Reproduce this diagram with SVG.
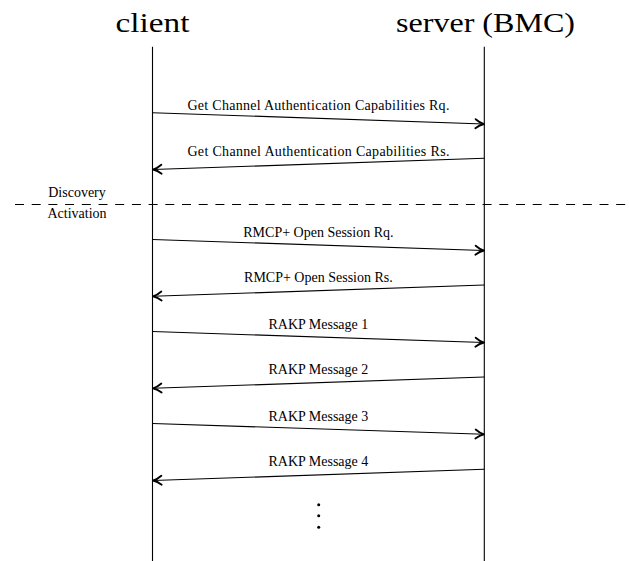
<svg xmlns="http://www.w3.org/2000/svg" width="629" height="561" viewBox="0 0 629 561">
<style>
  text { font-family: "Liberation Serif", "Times New Roman", serif; fill: #000; }
  .title { font-size: 28px; text-anchor: middle; }
  .lbl { font-size: 14px; text-anchor: middle; }
  .life { stroke: #000; stroke-width: 1.1; fill: none; }
  .msg { stroke: #000; stroke-width: 1.1; fill: none; marker-end: url(#arr); }
  .sep { stroke: #000; stroke-width: 1; stroke-dasharray: 9 7.7; fill: none; }
</style>
<defs>
  <marker id="arr" viewBox="-10 -6 12 12" refX="0" refY="0" markerWidth="12" markerHeight="12" markerUnits="userSpaceOnUse" orient="auto">
    <path d="M-8.5,-4.5 C-5.5,-2 -2.5,-0.6 0,0 C-2.5,0.6 -5.5,2 -8.5,4.5" fill="none" stroke="#000" stroke-width="1.8" stroke-linecap="round" stroke-linejoin="round"/>
  </marker>
</defs>
<g id="client">
  <text class="title" x="152.5" y="32" textLength="74" lengthAdjust="spacingAndGlyphs">client</text>
  <line class="life" x1="152.5" y1="46.7" x2="152.5" y2="561"/>
</g>
<g id="server">
  <text class="title" x="485.5" y="32" textLength="179" lengthAdjust="spacingAndGlyphs">server (BMC)</text>
  <line class="life" x1="484.3" y1="46.7" x2="484.3" y2="561"/>
</g>
<g id="phase-separator">
  <line class="sep" x1="15" y1="204.5" x2="629" y2="204.5"/>
  <text class="lbl" x="77" y="196.5">Discovery</text>
  <text class="lbl" x="77" y="218">Activation</text>
</g>
<g id="connectors">
  <line class="msg" x1="152.5" y1="112.7" x2="484" y2="124"/>
  <line class="msg" x1="484.3" y1="158.3" x2="153" y2="169.5"/>
  <line class="msg" x1="152.5" y1="239.5" x2="484" y2="250.5"/>
  <line class="msg" x1="484.3" y1="285" x2="153" y2="296.3"/>
  <line class="msg" x1="152.5" y1="331.5" x2="484" y2="342.5"/>
  <line class="msg" x1="484.3" y1="377" x2="153" y2="388.3"/>
  <line class="msg" x1="152.5" y1="423.5" x2="484" y2="434.3"/>
  <line class="msg" x1="484.3" y1="469.3" x2="153" y2="480.5"/>
</g>
<g id="labels">
  <text class="lbl" x="318.4" y="109.5" textLength="262" lengthAdjust="spacing">Get Channel Authentication Capabilities Rq.</text>
  <text class="lbl" x="318.4" y="155.5" textLength="262" lengthAdjust="spacing">Get Channel Authentication Capabilities Rs.</text>
  <text class="lbl" x="318.4" y="236.5">RMCP+ Open Session Rq.</text>
  <text class="lbl" x="318.4" y="282">RMCP+ Open Session Rs.</text>
  <text class="lbl" x="318.4" y="328.5">RAKP Message 1</text>
  <text class="lbl" x="318.4" y="374">RAKP Message 2</text>
  <text class="lbl" x="318.4" y="420.5">RAKP Message 3</text>
  <text class="lbl" x="318.4" y="466.3">RAKP Message 4</text>
</g>
<g id="continuation">
  <circle cx="318.7" cy="504.7" r="1.5" fill="#000"/>
  <circle cx="318.7" cy="515.8" r="1.5" fill="#000"/>
  <circle cx="318.7" cy="527.2" r="1.5" fill="#000"/>
</g>
</svg>
